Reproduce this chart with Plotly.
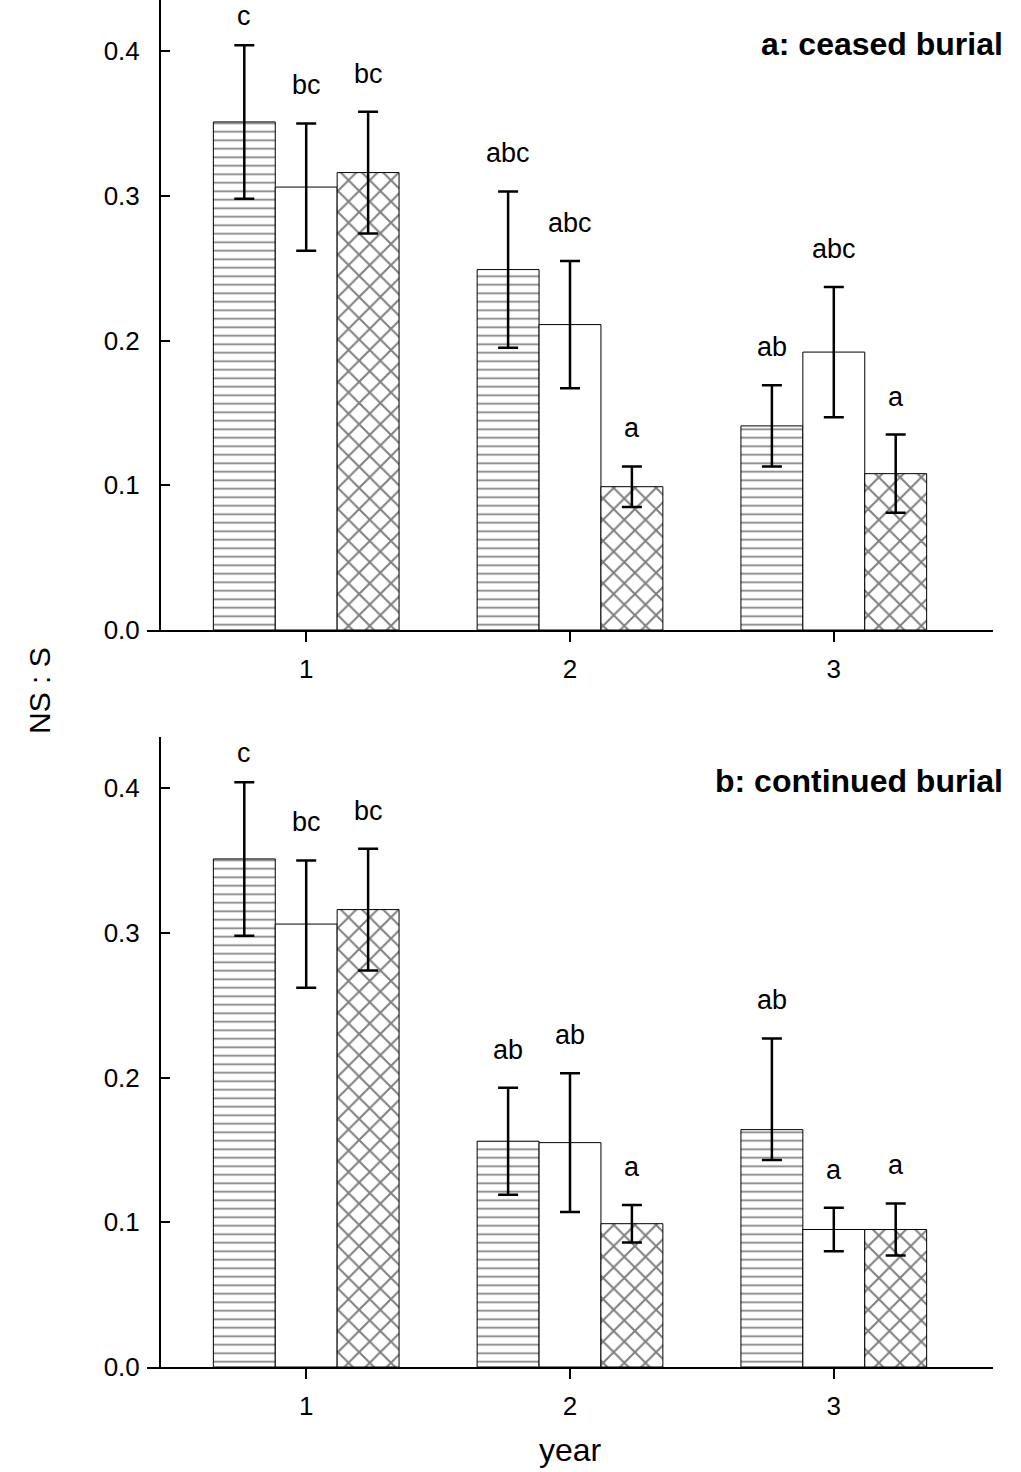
import plotly.graph_objects as go

# ---------------- data ----------------
years = ["1", "2", "3"]

# panel a: ceased burial
a_lines = [0.351, 0.249, 0.141]
a_open = [0.306, 0.211, 0.192]
a_cross = [0.316, 0.099, 0.108]
a_lines_err = [0.053, 0.054, 0.028]
a_open_err = [0.044, 0.044, 0.045]
a_cross_err = [0.042, 0.014, 0.027]
a_lines_lab = ["c", "abc", "ab"]
a_open_lab = ["bc", "abc", "abc"]
a_cross_lab = ["bc", "a", "a"]

# panel b: continued burial
b_lines = [0.351, 0.156, 0.164]
b_open = [0.306, 0.155, 0.095]
b_cross = [0.316, 0.099, 0.095]
b_lines_err_plus = [0.053, 0.037, 0.063]
b_lines_err_minus = [0.053, 0.037, 0.021]
b_open_err = [0.044, 0.048, 0.015]
b_cross_err = [0.042, 0.013, 0.018]
b_lines_lab = ["c", "ab", "ab"]
b_open_lab = ["bc", "ab", "a"]
b_cross_lab = ["bc", "a", "a"]

y_ticks = [0.0, 0.1, 0.2, 0.3, 0.4]
panel_titles = ["a: ceased burial", "b: continued burial"]
y_title = "NS : S"
x_title = "year"

# ---------------- styling ----------------
FONT = "Liberation Sans, Arial, Helvetica, sans-serif"
BARGAP = 0.296
LABEL_SHIFT = 21          # px gap between error-bar top and letter label
LABEL_SHIFT_TOPMOST = 12  # tighter gap for the tallest label (near panel top)
patterns = [
    dict(shape="-", size=8.5, solidity=0.2, fgcolor="black", bgcolor="white"),
    dict(shape="", fgcolor="black", bgcolor="white"),
    dict(shape="x", size=15, solidity=0.25, fgcolor="black", bgcolor="white"),
]

panels = [
    dict(vals=[a_lines, a_open, a_cross],
         plus=[a_lines_err, a_open_err, a_cross_err],
         minus=[a_lines_err, a_open_err, a_cross_err],
         labs=[a_lines_lab, a_open_lab, a_cross_lab]),
    dict(vals=[b_lines, b_open, b_cross],
         plus=[b_lines_err_plus, b_open_err, b_cross_err],
         minus=[b_lines_err_minus, b_open_err, b_cross_err],
         labs=[b_lines_lab, b_open_lab, b_cross_lab]),
]

fig = go.Figure()
annotations = []
n = 3
step = (1 - BARGAP) / n
for p, panel in enumerate(panels):
    xa = "x" if p == 0 else "x2"
    ya = "y" if p == 0 else "y2"
    tops = [panel["vals"][k][i] + panel["plus"][k][i]
            for k in range(n) for i in range(len(years))]
    highest = max(tops)
    for k in range(n):
        fig.add_trace(go.Bar(
            x=years, y=panel["vals"][k], xaxis=xa, yaxis=ya,
            marker=dict(color="white", line=dict(color="black", width=1),
                        pattern=patterns[k]),
            error_y=dict(type="data", symmetric=False,
                         array=panel["plus"][k], arrayminus=panel["minus"][k],
                         color="black", thickness=2.5, width=10),
            showlegend=False, hoverinfo="skip",
        ))
        for i in range(len(years)):
            top = panel["vals"][k][i] + panel["plus"][k][i]
            annotations.append(dict(
                x=i + (k - (n - 1) / 2) * step,
                y=top, xref=xa, yref=ya, text=panel["labs"][k][i],
                showarrow=False, yanchor="bottom",
                yshift=LABEL_SHIFT_TOPMOST if top == highest else LABEL_SHIFT,
                font=dict(family=FONT, size=27, color="black"),
            ))
    annotations.append(dict(
        x=1.0142, xref="paper", y=0.93, yref=("y domain" if p == 0 else "y2 domain"),
        text="<b>%s</b>" % panel_titles[p], showarrow=False,
        xanchor="right", yanchor="middle",
        font=dict(family=FONT, size=32, color="black"),
    ))

annotations.append(dict(
    x=-0.1265, xref="paper", y=0.4953, yref="paper", text=y_title,
    textangle=-90, showarrow=False, xanchor="center", yanchor="middle",
    font=dict(family=FONT, size=30, color="black"),
))
annotations.append(dict(
    x=0.5, xref="paper", y=-0.0607, yref="paper", text=x_title,
    showarrow=False, xanchor="center", yanchor="middle",
    font=dict(family=FONT, size=32, color="black"),
))

L, R, T, B = 147, 28, 0, 105
W, H = 1021, 1472
plot_h = H - T - B
row_h = 630
ypos = 13 / (W - L - R)

xaxis_common = dict(
    type="category", range=[-0.6035, 2.6035], showline=True, linecolor="black",
    linewidth=2, ticks="outside", ticklen=10, tickwidth=1.5, tickcolor="black",
    showgrid=False, zeroline=False, ticklabelstandoff=5,
    tickfont=dict(family=FONT, size=26, color="black"), domain=[0, 1],
)
yaxis_common = dict(
    range=[0, row_h / 1447.5], tickvals=y_ticks, tickformat=".1f",
    showline=True, linecolor="black", linewidth=2, ticks="inside", ticklen=9,
    tickwidth=1.5, tickcolor="black", showgrid=False, zeroline=False,
    anchor="free", position=ypos, ticklabelstandoff=14,
    tickfont=dict(family=FONT, size=26, color="black"),
)

fig.update_layout(
    width=W, height=H, margin=dict(l=L, r=R, t=T, b=B),
    paper_bgcolor="white", plot_bgcolor="white",
    barmode="group", bargap=BARGAP, bargroupgap=0,
    xaxis=dict(xaxis_common, anchor="y"),
    xaxis2=dict(xaxis_common, anchor="y2"),
    yaxis=dict(yaxis_common, domain=[1 - row_h / plot_h, 1]),
    yaxis2=dict(yaxis_common, domain=[0, row_h / plot_h]),
    annotations=annotations,
    font=dict(family=FONT, color="black"),
)

fig.write_html("out.html")
